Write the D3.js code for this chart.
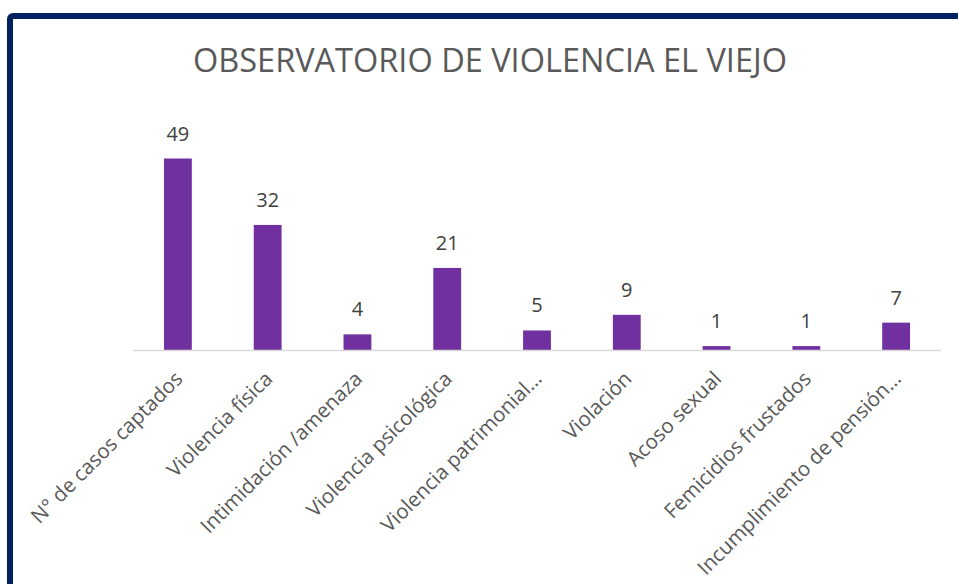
<!DOCTYPE html>
<html>
<head>
<meta charset="utf-8">
<script src="https://cdn.jsdelivr.net/npm/d3@7"></script>
<style>
  body { margin: 0; background: #fff; }
  svg { display: block; }
</style>
</head>
<body>
<div id="chart"></div>
<script>
// data
const categories = [
  'N° de casos captados',
  'Violencia física',
  'Intimidación /amenaza',
  'Violencia psicológica',
  'Violencia patrimonial…',
  'Violación',
  'Acoso sexual',
  'Femicidios frustados',
  'Incumplimiento de pensión…'
];
const values = [49, 32, 4, 21, 5, 9, 1, 1, 7];

const width = 958;
const height = 584;

const svg = d3.select('#chart')
  .append('svg')
  .attr('width', width)
  .attr('height', height);

// navy frame (runs off the right and bottom edges)
svg.append('rect')
  .attr('x', 10)
  .attr('y', 16)
  .attr('width', 1000)
  .attr('height', 700)
  .attr('rx', 3)
  .style('fill', '#fff')
  .style('stroke', '#002060')
  .style('stroke-width', 6);

svg.append('text')
  .attr('x', 490)
  .attr('y', 72)
  .attr('text-anchor', 'middle')
  .style('font-family', '"Open Sans", sans-serif')
  .style('font-size', '32.5px')
  .style('fill', '#595959')
  .text('OBSERVATORIO DE VIOLENCIA EL VIEJO');

const x = d3.scaleBand()
  .domain(categories)
  .range([133, 941])
  .paddingInner(0.69)
  .paddingOuter(0.345);

const y = d3.scaleLinear()
  .domain([0, 49])
  .range([350, 158.5]);

// bars
svg.selectAll('.bar')
  .data(values)
  .enter()
  .append('rect')
  .attr('class', 'bar')
  .attr('x', (d, i) => x(categories[i]))
  .attr('y', (d) => y(d))
  .attr('width', x.bandwidth())
  .attr('height', (d) => y(0) - y(d))
  .style('fill', '#7030a0');

// baseline
svg.append('line')
  .attr('x1', 133)
  .attr('x2', 941)
  .attr('y1', y(0) + 0.5)
  .attr('y2', y(0) + 0.5)
  .style('stroke', '#d9d9d9')
  .style('stroke-width', 1.5);

// value labels
svg.selectAll('.val')
  .data(values)
  .enter()
  .append('text')
  .attr('class', 'val')
  .attr('x', (d, i) => x(categories[i]) + x.bandwidth() / 2)
  .attr('y', (d) => y(d) - 18)
  .attr('text-anchor', 'middle')
  .style('font-family', '"Open Sans", sans-serif')
  .style('font-size', '20px')
  .style('fill', '#404040')
  .text((d) => d);

// rotated category labels
svg.selectAll('.cat')
  .data(categories)
  .enter()
  .append('text')
  .attr('class', 'cat')
  .attr('transform', (d) => `translate(${x(d) + x.bandwidth() / 2 + 1},${375}) rotate(-45)`)
  .attr('text-anchor', 'end')
  .attr('dy', '0.35em')
  .style('font-family', '"Open Sans", sans-serif')
  .style('font-size', '20.5px')
  .style('fill', '#595959')
  .text((d) => d);
</script>
</body>
</html>
